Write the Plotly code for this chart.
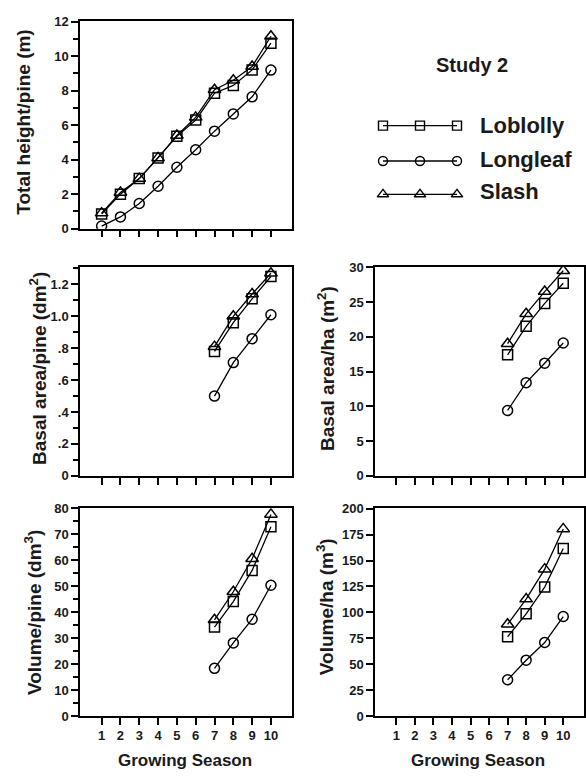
import plotly.graph_objects as go

# ---------------- data ----------------
SEASONS_ALL = [1, 2, 3, 4, 5, 6, 7, 8, 9, 10]
SEASONS_LATE = [7, 8, 9, 10]
SPECIES = ["Loblolly", "Longleaf", "Slash"]

HEIGHT_LOBLOLLY = [0.85, 2.0, 2.9, 4.1, 5.35, 6.3, 7.85, 8.3, 9.2, 10.75]
HEIGHT_LONGLEAF = [0.15, 0.68, 1.46, 2.46, 3.56, 4.57, 5.65, 6.65, 7.64, 9.19]
HEIGHT_SLASH = [0.9, 2.1, 2.9, 4.1, 5.4, 6.45, 8.05, 8.6, 9.4, 11.15]

BA_PINE_LOBLOLLY = [0.78, 0.96, 1.11, 1.25]
BA_PINE_LONGLEAF = [0.50, 0.71, 0.86, 1.01]
BA_PINE_SLASH = [0.81, 1.00, 1.14, 1.27]

BA_HA_LOBLOLLY = [17.4, 21.5, 24.8, 27.7]
BA_HA_LONGLEAF = [9.4, 13.4, 16.2, 19.1]
BA_HA_SLASH = [19.0, 23.3, 26.5, 29.5]

VOL_PINE_LOBLOLLY = [34.3, 44.1, 56.1, 72.9]
VOL_PINE_LONGLEAF = [18.4, 28.2, 37.3, 50.4]
VOL_PINE_SLASH = [37.1, 47.9, 60.6, 77.7]

VOL_HA_LOBLOLLY = [76.5, 98.6, 124.4, 161.6]
VOL_HA_LONGLEAF = [35.0, 53.9, 70.9, 96.0]
VOL_HA_SLASH = [88.5, 112.8, 141.7, 180.5]

BA_PINE_TICKVALS = [0, 0.2, 0.4, 0.6, 0.8, 1.0, 1.2]
BA_PINE_TICKTEXT = ["0", ".2", ".4", ".6", ".8", "1.0", "1.2"]

X_TICKS = [1, 2, 3, 4, 5, 6, 7, 8, 9, 10]
LEGEND_SAMPLE_X = [0, 1, 2]
LEGEND_LINE_X = [-0.22, 2.22]

# ---------------- styling ----------------
W, H = 586, 779
FONT = "Liberation Sans, Arial, sans-serif"
SYMBOLS = {"Loblolly": "square-open", "Longleaf": "circle-open", "Slash": "triangle-up-open"}
SIZES = {"Loblolly": 10, "Longleaf": 10, "Slash": 11}


def px_x(p):
    return p / W


def px_y(p):
    return 1 - p / H


LEFT = [px_x(80), px_x(292)]
RIGHT = [px_x(375), px_x(584)]
ROW1 = [px_y(226), px_y(14)]
ROW2 = [px_y(478), px_y(265)]
ROW3 = [px_y(723), px_y(511)]

panels = [
    ("", LEFT, ROW1, SEASONS_ALL,
     {"Loblolly": HEIGHT_LOBLOLLY, "Longleaf": HEIGHT_LONGLEAF, "Slash": HEIGHT_SLASH},
     [0, 12.05], False),
    ("2", LEFT, ROW2, SEASONS_LATE,
     {"Loblolly": BA_PINE_LOBLOLLY, "Longleaf": BA_PINE_LONGLEAF, "Slash": BA_PINE_SLASH},
     [0, 1.31], False),
    ("3", RIGHT, ROW2, SEASONS_LATE,
     {"Loblolly": BA_HA_LOBLOLLY, "Longleaf": BA_HA_LONGLEAF, "Slash": BA_HA_SLASH},
     [0, 30.05], False),
    ("4", LEFT, ROW3, SEASONS_LATE,
     {"Loblolly": VOL_PINE_LOBLOLLY, "Longleaf": VOL_PINE_LONGLEAF, "Slash": VOL_PINE_SLASH},
     [0, 80.1], True),
    ("5", RIGHT, ROW3, SEASONS_LATE,
     {"Loblolly": VOL_HA_LOBLOLLY, "Longleaf": VOL_HA_LONGLEAF, "Slash": VOL_HA_SLASH},
     [0, 200.5], True),
]

MINOR = dict(ticks="outside", ticklen=5, tickcolor="black", tickwidth=1.5)
yaxis_ticks = {
    "": dict(dtick=2, tick0=0, minor=dict(dtick=1, **MINOR)),
    "2": dict(tickvals=BA_PINE_TICKVALS, ticktext=BA_PINE_TICKTEXT,
              minor=dict(dtick=0.1, tick0=0, **MINOR)),
    "3": dict(dtick=5, tick0=0),
    "4": dict(dtick=10, tick0=0, minor=dict(dtick=5, **MINOR)),
    "5": dict(dtick=25, tick0=0),
}

fig = go.Figure()
layout = dict(
    width=W, height=H,
    margin=dict(l=0, r=0, t=0, b=0),
    paper_bgcolor="white", plot_bgcolor="rgba(0,0,0,0)",
    showlegend=False,
    font=dict(family=FONT, color="black"),
)

tickfont = dict(family=FONT, size=13, color="#1a1a1a", weight="bold")

for suf, xd, yd, xs, series, yr, showx in panels:
    for sp in SPECIES:
        fig.add_trace(go.Scatter(
            x=xs, y=series[sp], mode="lines+markers", name=sp,
            xaxis="x" + suf, yaxis="y" + suf,
            line=dict(color="black", width=1.3),
            marker=dict(symbol=SYMBOLS[sp], size=SIZES[sp], color="black",
                        line=dict(color="black", width=1.5)),
        ))
    layout["xaxis" + suf] = dict(
        domain=xd, anchor="y" + suf, range=[-0.15, 11.12],
        tickvals=X_TICKS, ticks="outside", ticklen=7, tickwidth=1.5, tickcolor="black",
        showticklabels=showx, tickfont=tickfont,
        showline=True, linecolor="black", linewidth=1.5, mirror=True,
        showgrid=False, zeroline=False,
    )
    ya = dict(
        domain=yd, anchor="x" + suf, range=yr,
        ticks="outside", ticklen=7, tickwidth=1.5, tickcolor="black",
        tickfont=tickfont,
        showline=True, linecolor="black", linewidth=1.5, mirror=True,
        showgrid=False, zeroline=False,
    )
    ya.update(yaxis_ticks[suf])
    layout["yaxis" + suf] = ya

# legend drawn on a hidden axis confined to the upper-right blank area
LEG_Y = {"Loblolly": 121, "Longleaf": 157, "Slash": 191}
LEG_TEXT_Y = {"Loblolly": 121, "Longleaf": 156, "Slash": 188}
LEG_TOP, LEG_BOTTOM = 95, 215
layout["xaxis6"] = dict(domain=[px_x(383), px_x(457)], range=[0, 2], visible=False, anchor="y6")
layout["yaxis6"] = dict(domain=[px_y(LEG_BOTTOM), px_y(LEG_TOP)], range=[LEG_BOTTOM, LEG_TOP],
                        visible=False, anchor="x6")
for sp in SPECIES:
    fig.add_trace(go.Scatter(
        x=LEGEND_LINE_X, y=[LEG_Y[sp]] * 2, mode="lines", xaxis="x6", yaxis="y6",
        line=dict(color="black", width=1.3), hoverinfo="skip", cliponaxis=False,
    ))
    fig.add_trace(go.Scatter(
        x=LEGEND_SAMPLE_X, y=[LEG_Y[sp]] * 3, mode="markers", xaxis="x6", yaxis="y6",
        marker=dict(symbol=SYMBOLS[sp], size=SIZES[sp] - 1, color="black",
                    line=dict(color="black", width=1.4)),
        hoverinfo="skip", cliponaxis=False,
    ))

annotations = []
for sp in SPECIES:
    annotations.append(dict(
        x=px_x(478), y=px_y(LEG_TEXT_Y[sp]), xref="paper", yref="paper",
        text="<b>%s</b>" % sp, showarrow=False, xanchor="left", yanchor="middle",
        font=dict(family=FONT, size=22, color="#1a1a1a"),
    ))
annotations.append(dict(
    x=px_x(472), y=px_y(59), xref="paper", yref="paper",
    text="<b>Study 2</b>", showarrow=False, xanchor="center", yanchor="middle",
    font=dict(family=FONT, size=20, color="#1a1a1a"),
))

YTITLES = [
    ("Total height/pine (m)", 24, 118),
    ("Basal area/pine (dm<sup>2</sup>)", 38, 368),
    ("Basal area/ha (m<sup>2</sup>)", 326, 368),
    ("Volume/pine (dm<sup>3</sup>)", 33, 618),
    ("Volume/ha (m<sup>3</sup>)", 325, 612),
]
for txt, cx, cy in YTITLES:
    annotations.append(dict(
        x=px_x(cx), y=px_y(cy), xref="paper", yref="paper",
        text="<b>%s</b>" % txt, showarrow=False, textangle=-90,
        xanchor="center", yanchor="middle",
        font=dict(family=FONT, size=19, color="#1a1a1a"),
    ))
for cx in (185, 478):
    annotations.append(dict(
        x=px_x(cx), y=px_y(768), xref="paper", yref="paper",
        text="<b>Growing Season</b>", showarrow=False,
        xanchor="center", yanchor="middle",
        font=dict(family=FONT, size=17, color="#1a1a1a"),
    ))

layout["annotations"] = annotations
fig.update_layout(**layout)
fig.write_html(
    "out.html",
    config={"displayModeBar": False},
    post_script="document.body.style.margin='0';document.documentElement.style.overflow='hidden';",
)
